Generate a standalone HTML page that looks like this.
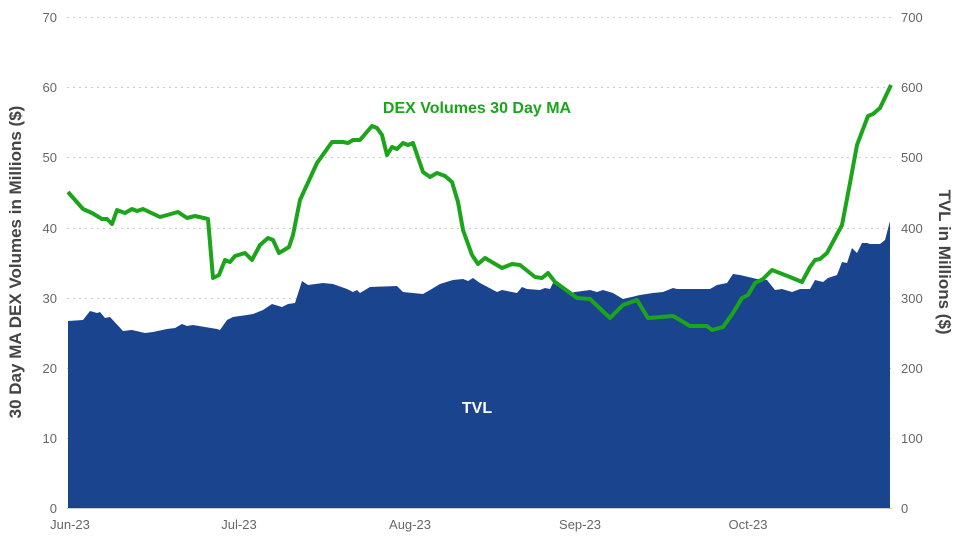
<!DOCTYPE html>
<html><head><meta charset="utf-8"><style>
body{margin:0;background:#fff}
svg text{font-family:"Liberation Sans",sans-serif}
</style></head><body>
<svg width="960" height="540" viewBox="0 0 960 540">
<g stroke="#ccc" stroke-width="1" stroke-dasharray="2,4">
<line x1="67" x2="892" y1="17.5" y2="17.5"/><line x1="67" x2="892" y1="87.5" y2="87.5"/>
<line x1="67" x2="892" y1="157.5" y2="157.5"/><line x1="67" x2="892" y1="228.5" y2="228.5"/>
<line x1="67" x2="892" y1="298.5" y2="298.5"/><line x1="67" x2="892" y1="368.5" y2="368.5"/>
<line x1="67" x2="892" y1="438.5" y2="438.5"/>
</g>
<path fill="#1b448e" d="M68,508 L68,321 83,320 90,311 97,313 100,312 105,318 110,317 123,331 132,330 145,333 153,332 167,329 175,328 182,324 187,326 193,325 217,329 220,330 227,320 233,317 247,315 253,314 263,310 272,304 282,307 288,304 295,303 302,281 308,285 323,283 333,284 347,289 353,292 357,290 360,293 370,287 397,286 403,292 423,294 430,290 440,284 453,280 463,279 468,281 473,278 480,283 497,292 502,290 517,293 522,287 527,289 540,290 545,288 550,289 553,283 570,293 575,292 590,290 597,292 603,290 613,293 623,299 640,295 653,293 663,292 673,288 677,289 710,289 717,285 727,283 733,274 740,275 757,279 767,280 775,290 782,289 792,292 800,289 810,289 815,280 823,282 828,278 837,275 842,262 847,263 852,248 857,253 862,243 867,243 870,244 880,244 885,240 890,221 890,508 Z"/>
<line x1="67" x2="892" y1="508.5" y2="508.5" stroke="#ccc"/>
<polyline fill="none" stroke="#1aa51a" stroke-width="4" stroke-linejoin="round" points="68,192 83,209 92,213 102,219 107,219 112,224 117,210 125,213 132,209 137,211 143,209 160,217 178,212 187,218 195,216 208,219 213,278 219,275 225,260 230,262 235,256 245,253 252,260 260,245 268,238 273,240 279,253 289,247 293,235 300,200 317,163 332,142 343,142 348,143 353,140 360,140 372,126 377,128 382,135 387,155 392,147 397,149 403,143 408,145 413,143 423,172 430,177 437,173 445,176 452,182 458,202 463,230 472,255 478,264 485,258 502,268 512,264 520,265 535,277 542,278 548,273 555,282 577,298 590,299 610,318 623,305 637,300 648,318 673,316 680,320 690,326 707,326 712,330 723,327 733,313 742,298 748,295 755,283 763,279 772,270 790,277 802,282 810,267 815,260 820,259 827,253 842,225 850,183 857,145 868,116 873,114 880,108 891,85"/>
<g fill="#666" font-size="13" text-anchor="end">
<text x="57" y="22">70</text><text x="57" y="92">60</text><text x="57" y="162">50</text><text x="57" y="233">40</text><text x="57" y="303">30</text><text x="57" y="373">20</text><text x="57" y="443">10</text><text x="57" y="513">0</text>
</g>
<g fill="#666" font-size="13" text-anchor="start">
<text x="901" y="22">700</text><text x="901" y="92">600</text><text x="901" y="162">500</text><text x="901" y="233">400</text><text x="901" y="303">300</text><text x="901" y="373">200</text><text x="901" y="443">100</text><text x="901" y="513">0</text>
</g>
<g fill="#666" font-size="13" text-anchor="middle">
<text x="70" y="529">Jun-23</text><text x="239" y="529">Jul-23</text><text x="410" y="529">Aug-23</text><text x="580" y="529">Sep-23</text><text x="748" y="529">Oct-23</text>
</g>
<text transform="translate(21,262) rotate(-90)" text-anchor="middle" font-size="17" font-weight="bold" fill="#444">30 Day MA DEX Volumes in Millions ($)</text>
<text transform="translate(939,262) rotate(90)" text-anchor="middle" font-size="17" font-weight="bold" fill="#444">TVL in Millions ($)</text>
<text x="477" y="113" text-anchor="middle" font-size="16" font-weight="bold" fill="#1aa51a">DEX Volumes 30 Day MA</text>
<text x="477" y="413" text-anchor="middle" font-size="16" font-weight="bold" fill="#fff">TVL</text>
</svg>
</body></html>
